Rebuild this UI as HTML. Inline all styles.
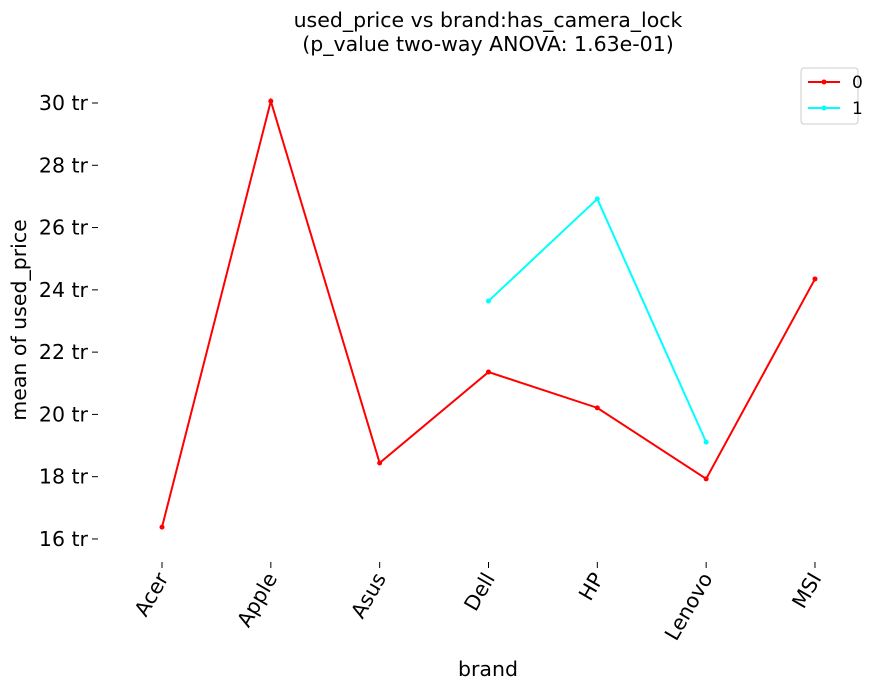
<!DOCTYPE html>
<html><head><meta charset="utf-8"><style>
body{margin:0;background:#fff}
svg{font-family:"DejaVu Sans","Liberation Sans",sans-serif}
</style></head><body>
<svg id="chart" width="889" height="690">
<text x="488" y="27" text-anchor="middle" font-size="20.5">used_price vs brand:has_camera_lock</text>
<text x="488" y="51" text-anchor="middle" font-size="20.5">(p_value two-way ANOVA: 1.63e-01)</text>
<text x="26" y="320" text-anchor="middle" font-size="20.5" transform="rotate(-90 26 320)">mean of used_price</text>
<text x="488" y="676" text-anchor="middle" font-size="20.5">brand</text>
<g id="yaxis"></g>
<g id="xaxis"></g>
<g id="series"></g>
<g>
<rect x="801" y="68" width="57" height="56" rx="3" fill="#fff" stroke="#ccc"/>
<line x1="808" y1="82" x2="840" y2="82" stroke="#ff0000" stroke-width="2"/><circle cx="824" cy="82" r="2.5" fill="#ff0000"/>
<text x="852" y="88" font-size="17">0</text>
<line x1="808" y1="108" x2="840" y2="108" stroke="#00ffff" stroke-width="2"/><circle cx="824" cy="108" r="2.5" fill="#00ffff"/>
<text x="852" y="114" font-size="17">1</text>
</g>
</svg>
<script>
const categories=["Acer","Apple","Asus","Dell","HP","Lenovo","MSI"];
const series0=[16.38,30.06,18.44,21.36,20.21,17.93,24.35];
const series1=[null,null,null,23.64,26.92,19.11,null];
const yTicks=[16,18,20,22,24,26,28,30];
const yTickLabels=["16 tr","18 tr","20 tr","22 tr","24 tr","26 tr","28 tr","30 tr"];
const NS="http://www.w3.org/2000/svg";
function y(v){return 103+(30-v)*31.14;}
function x(i){return 162+i*108.83;}
function mk(t,a,p){const e=document.createElementNS(NS,t);for(const k in a)e.setAttribute(k,a[k]);p.appendChild(e);return e;}
const ya=document.getElementById('yaxis'),xa=document.getElementById('xaxis'),sg=document.getElementById('series');
yTicks.forEach((v,i)=>{
 const l=mk('line',{x1:92,x2:98,y1:y(v),y2:y(v),stroke:'#000'},ya);
 
 
 const t=mk('text',{x:88,y:y(v)+7,'text-anchor':'end','font-size':20.5},ya);
 t.textContent=yTickLabels[i];
 
 
});
categories.forEach((c,i)=>{
 const l=mk('line',{x1:x(i),x2:x(i),y1:562,y2:568,stroke:'#000'},xa);
 
 
 const t=mk('text',{x:x(i)+7,y:578,'text-anchor':'end','font-size':20.5,transform:`rotate(-60 ${x(i)+7} 578)`},xa);
 t.textContent=c;
 
 
});
function draw(vals,color,name){
 const pts=[];vals.forEach((v,i)=>{if(v!=null)pts.push([x(i),y(v)]);});
 const p=mk('polyline',{points:pts.map(q=>q.join(',')).join(' '),fill:'none',stroke:color,'stroke-width':2},sg);
 
 
 pts.forEach(q=>{const c=mk('circle',{cx:q[0],cy:q[1],r:2.5,fill:color},sg);
 
 });
}
draw(series0,'#ff0000','series-0');
draw(series1,'#00ffff','series-1');
</script>
</body></html>
